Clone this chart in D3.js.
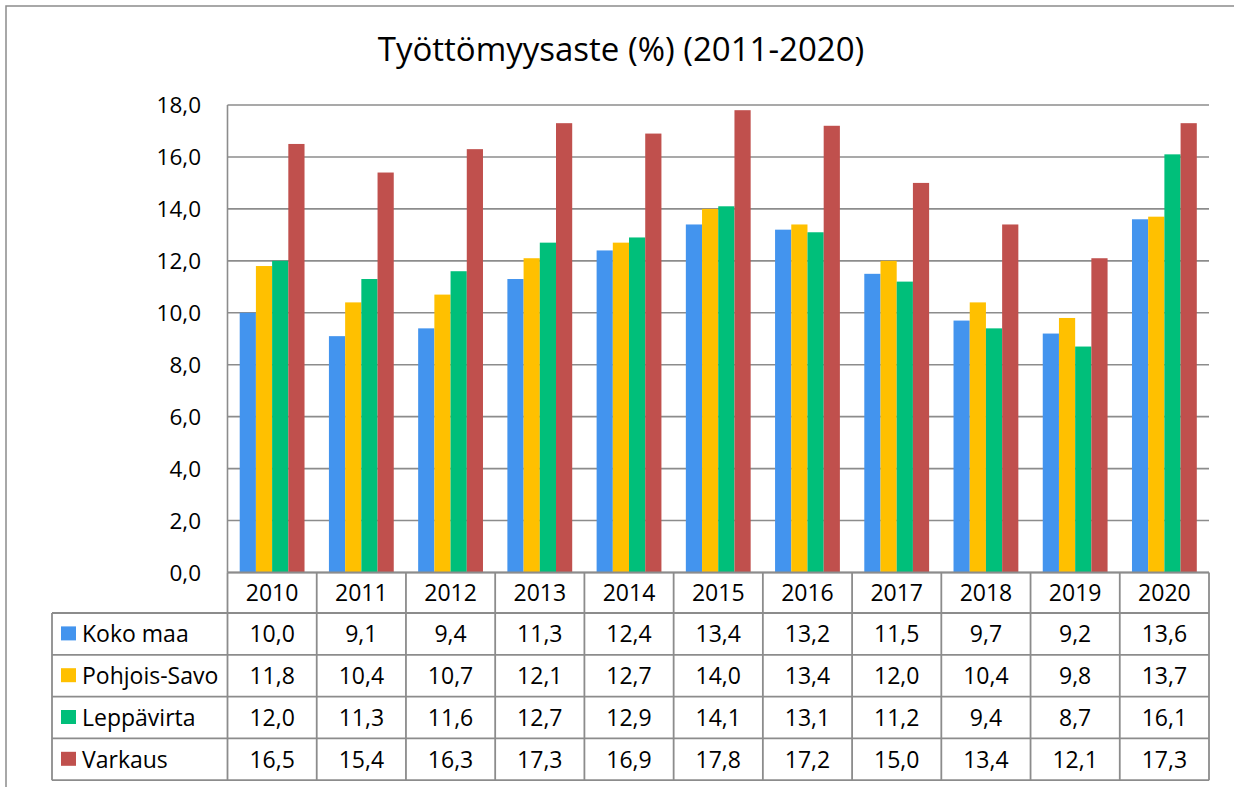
<!DOCTYPE html>
<html><head><meta charset="utf-8">
<script src="https://cdn.jsdelivr.net/npm/d3@7/dist/d3.min.js"></script>
<style>body{margin:0;background:#fff}svg{display:block}text{font-family:"Open Sans",sans-serif;fill:#000}</style>
</head><body><svg id="c" width="1234" height="787"></svg>
<script>
const years = ["2010","2011","2012","2013","2014","2015","2016","2017","2018","2019","2020"];
const seriesNames = ["Koko maa","Pohjois-Savo","Leppävirta","Varkaus"];
const kokoMaa = [10.0,9.1,9.4,11.3,12.4,13.4,13.2,11.5,9.7,9.2,13.6];
const pohjoisSavo = [11.8,10.4,10.7,12.1,12.7,14.0,13.4,12.0,10.4,9.8,13.7];
const leppavirta = [12.0,11.3,11.6,12.7,12.9,14.1,13.1,11.2,9.4,8.7,16.1];
const varkaus = [16.5,15.4,16.3,17.3,16.9,17.8,17.2,15.0,13.4,12.1,17.3];
const yTicks = [0,2,4,6,8,10,12,14,16,18];
const title = "Työttömyysaste (%) (2011-2020)";

const values = [kokoMaa, pohjoisSavo, leppavirta, varkaus];
const colors = ["#4394ee","#ffc000","#00bf7a","#c0504d"];
const svg = d3.select("#c");
const L = 227.5, R = 1209, T = 105, B = 572.5;
const gridColor = "#8c8c8c";

// outer border
svg.append("rect").attr("x",6).attr("y",6).attr("width",1240).attr("height",800)
  .attr("fill","none").attr("stroke",gridColor).attr("stroke-width",1.5);

svg.append("text").attr("x",621).attr("y",61).attr("text-anchor","middle")
  .style("font-size","33px").text(title);

const y = d3.scaleLinear().domain([0,18]).range([B,T]);
const x0 = d3.scaleBand().domain(years).range([L,R]).padding(0);
const x1 = d3.scaleBand().domain(seriesNames).range([0,x0.bandwidth()]).paddingInner(0).paddingOuter(0.753);

// gridlines
svg.append("g").selectAll("line").data(yTicks).join("line")
  .attr("x1",L).attr("x2",R).attr("y1",d=>y(d)).attr("y2",d=>y(d))
  .attr("stroke",gridColor).attr("stroke-width",1.6);

// y labels
const fmt = d=> d3.format(".1f")(d).replace(".",",");
svg.append("g").selectAll("text").data(yTicks).join("text")
  .attr("x",201).attr("y",d=>y(d)).attr("dy","0.36em").attr("text-anchor","end")
  .style("font-size","22.5px").text(fmt);

// bars
const g = svg.append("g");
seriesNames.forEach((s,i)=>{
  g.append("g").selectAll("rect").data(values[i]).join("rect")
    .attr("x",(d,j)=>x0(years[j])+x1(s)).attr("width",x1.bandwidth())
    .attr("y",d=>y(d)).attr("height",d=>y(0)-y(d)).attr("fill",colors[i]);
});

// axis line
svg.append("line").attr("x1",L).attr("x2",L).attr("y1",T).attr("y2",B)
  .attr("stroke",gridColor).attr("stroke-width",1.6);

// data table
const rowTop = 572.5, headerBottom = 613, rowH = 41.8;
const tableLeft = 52;
const tg = svg.append("g").attr("stroke",gridColor).attr("stroke-width",1.8);
const bounds = years.map(d=>x0(d)).concat([R]);
tg.selectAll("line.v").data(bounds).join("line")
  .attr("x1",d=>d).attr("x2",d=>d).attr("y1",rowTop).attr("y2",headerBottom+rowH*4);
const hs = d3.range(5).map(i=>headerBottom+rowH*i);
tg.selectAll("line.h").data(hs).join("line")
  .attr("x1",tableLeft).attr("x2",R).attr("y1",d=>d).attr("y2",d=>d);
tg.append("line").attr("x1",tableLeft).attr("x2",tableLeft).attr("y1",headerBottom).attr("y2",headerBottom+rowH*4);
tg.append("line").attr("x1",L).attr("x2",R).attr("y1",rowTop).attr("y2",rowTop);

// year labels
svg.append("g").selectAll("text").data(years).join("text")
  .attr("x",d=>x0(d)+x0.bandwidth()/2).attr("y",(rowTop+headerBottom)/2).attr("dy","0.36em")
  .attr("text-anchor","middle").style("font-size","23px").text(d=>d);

// rows
seriesNames.forEach((s,i)=>{
  const cy = headerBottom + rowH*i + rowH/2;
  svg.append("rect").attr("x",61).attr("y",cy-7.5).attr("width",15).attr("height",14).attr("fill",colors[i]);
  svg.append("text").attr("x",82).attr("y",cy).attr("dy","0.36em").style("font-size","23px").text(s);
  svg.append("g").selectAll("text").data(values[i]).join("text")
    .attr("x",(d,j)=>x0(years[j])+x0.bandwidth()/2).attr("y",cy).attr("dy","0.36em")
    .attr("text-anchor","middle").style("font-size","23px").text(fmt);
});
</script></body></html>
